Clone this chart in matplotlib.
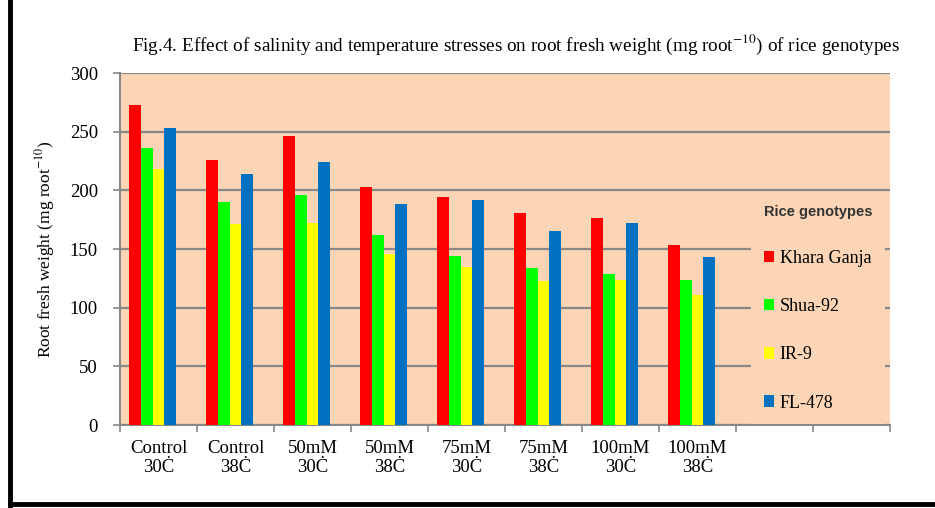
import matplotlib

matplotlib.use("Agg")
import matplotlib.pyplot as plt
import numpy as np
from matplotlib.lines import Line2D
from matplotlib.patches import Patch

categories = ["Control\n30Ċ", "Control\n38Ċ", "50mM\n30Ċ", "50mM\n38Ċ",
              "75mM\n30Ċ", "75mM\n38Ċ", "100mM\n30Ċ", "100mM\n38Ċ", "", ""]
genotypes = ["Khara Ganja", "Shua-92", "IR-9", "FL-478"]
khara_ganja = [273, 226, 246, 203, 194, 181, 176, 153]
shua_92 = [236, 190, 196, 162, 144, 134, 129, 124]
ir_9 = [218, 171, 172, 146, 135, 123, 124, 111]
fl_478 = [253, 214, 224, 188, 192, 165, 172, 143]
colors = ["#ff0000", "#00ff00", "#ffff00", "#0070c0"]

series = [khara_ganja, shua_92, ir_9, fl_478]

plt.rcParams["font.family"] = ["Liberation Serif", "DejaVu Serif"]
plt.rcParams["mathtext.fontset"] = "stix"

W, H = 935, 508
fig = plt.figure(figsize=(W / 100, H / 100), dpi=100)
ax = fig.add_axes([120 / W, 1 - 425 / H, 770 / W, 352 / H])
ax.set_facecolor("#fbd5b5")

n_slots = 5  # Excel leaves room for an empty fifth series
bw = (1 - 0.24) / n_slots
x = np.arange(len(khara_ganja))
for i, (vals, c) in enumerate(zip(series, colors)):
    pos = x + 0.12 + bw * (i + 0.5)
    ax.bar(pos, vals, width=bw, color=c, label=genotypes[i], zorder=3)

ax.set_xlim(0, len(categories))
ax.set_ylim(0, 300)
ax.set_yticks(np.arange(0, 301, 50))
ax.set_xticks(np.arange(0, len(categories) + 1))
ax.set_xticklabels([])
ax.set_xticks(np.arange(len(categories)) + 0.5, minor=True)
ax.set_xticklabels(categories, minor=True, fontsize=13.5, linespacing=1.12)
ax.tick_params(axis="x", which="minor", length=0, pad=11)
ax.tick_params(axis="x", which="major", length=5, color="#888888", width=1.2)
ax.tick_params(axis="y", length=5, color="#888888", width=1.2, labelsize=13.5, pad=11)
ax.grid(axis="y", color="#888888", linewidth=1.6, zorder=1)
for s in ["top", "right"]:
    ax.spines[s].set_visible(False)
for s in ["left", "bottom"]:
    ax.spines[s].set_color("#888888")
    ax.spines[s].set_linewidth(1.5)

ax.set_ylabel(r"Root fresh weight (mg root$^{-10}$)", fontsize=12.5, labelpad=9)

handles = [Patch(facecolor=c, edgecolor="none") for c in colors]
leg = fig.legend(handles, genotypes, loc="upper left",
                 bbox_to_anchor=(751 / W, 1 - 425 / H, 141 / W, 233 / H),
                 frameon=True, fancybox=False, facecolor="#fbd5b5", edgecolor="none",
                 framealpha=1, fontsize=13, labelspacing=1.73,
                 handlelength=0.6, handleheight=0.6, handletextpad=0.3,
                 borderaxespad=0, borderpad=0.7,
                 title="Rice genotypes",
                 title_fontproperties={"family": "Liberation Sans", "weight": "bold", "size": 10.5})
leg._legend_box.align = "left"
leg.get_title().set_color("#333333")

fig.text(516 / W, 1 - 45 / H, r"Fig.4. Effect of salinity and temperature stresses on root fresh weight (mg root$^{-10}$) of rice genotypes",
         ha="center", va="center", fontsize=13.8)

# outer frame
fig.add_artist(Line2D([10 / W, 10 / W], [0, 1], color="black", linewidth=3.5))
fig.add_artist(Line2D([10 / W, 1], [4 / H, 4 / H], color="black", linewidth=3.5))

fig.savefig("out.png", dpi=100)
